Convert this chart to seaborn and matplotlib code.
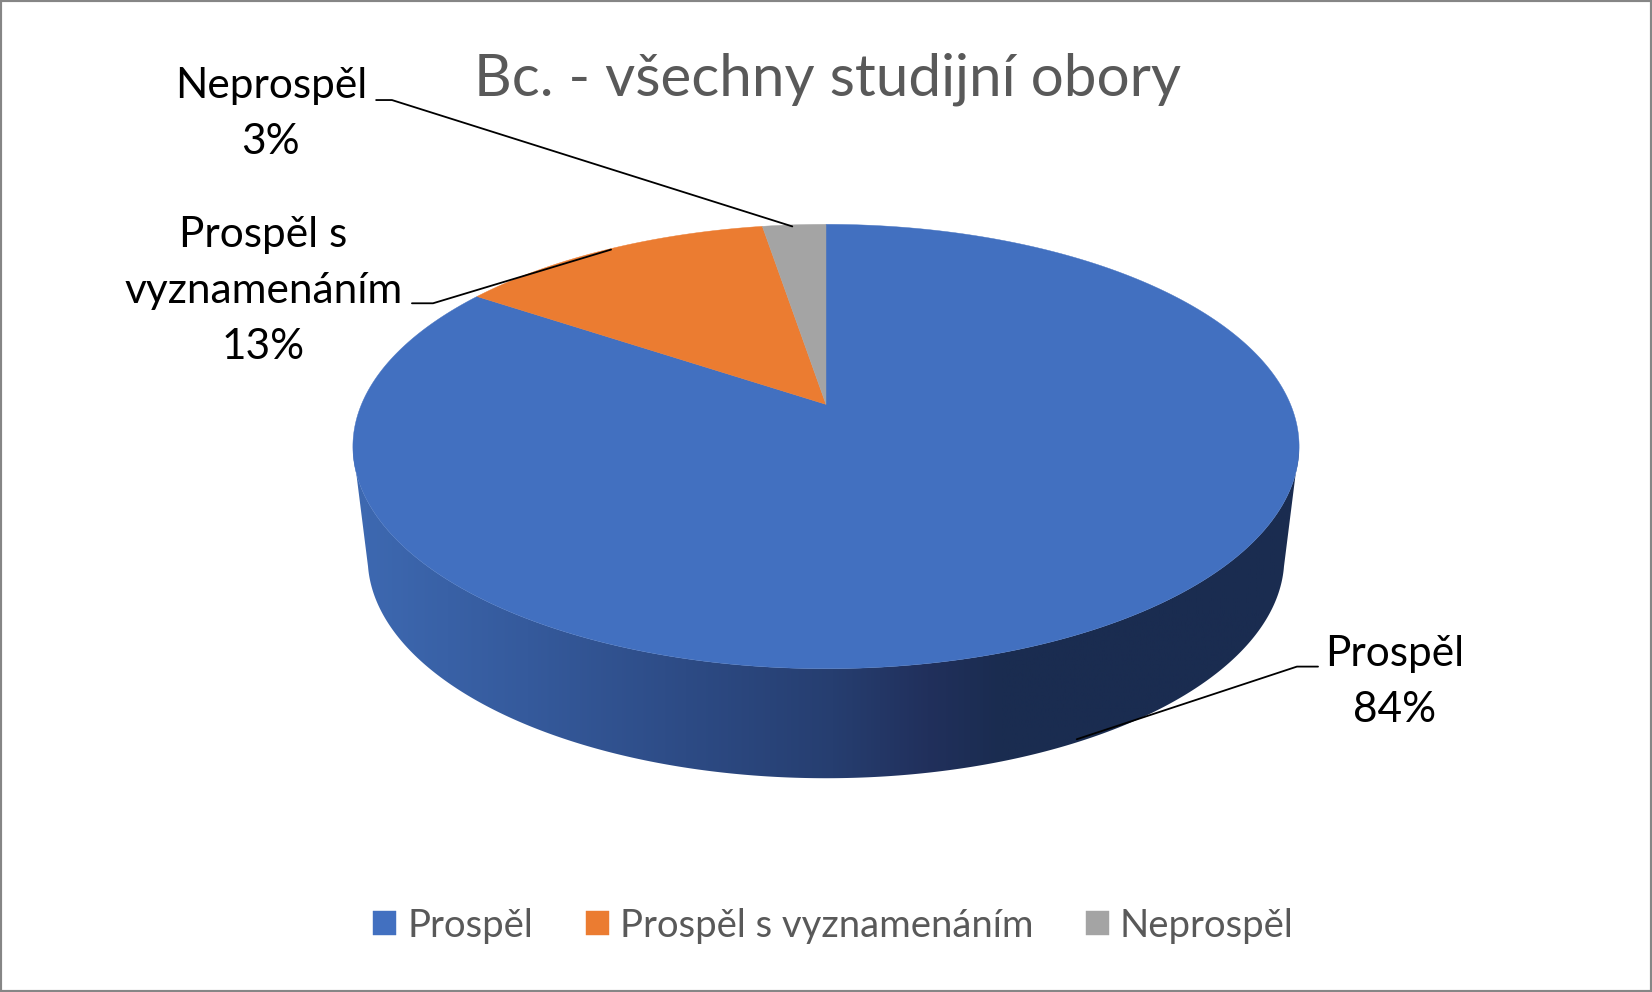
import numpy as np
import matplotlib
matplotlib.use("Agg")
import matplotlib.pyplot as plt
import seaborn as sns
from matplotlib.patches import Polygon

categories = ["Prospěl", "Prospěl s vyznamenáním", "Neprospěl"]
values = [84.4, 13.0, 2.6]
colors = ["#4270C0", "#EB7C31", "#A4A4A4"]
label_texts = ["Prospěl", "Prospěl s\nvyznamenáním", "Neprospěl"]
title = "Bc. - všechny studijní obory"
wall_colors = ["#3d68b0", "#355a9c", "#2d4b85", "#263e70", "#21305c", "#1a2c50", "#1a2c50"]
wall_stops = [349, 500, 650, 790, 880, 950, 1232]

sns.set_theme(style="white")
plt.rcParams["font.family"] = ["Lato", "DejaVu Sans"]

fig, ax = plt.subplots(figsize=(16.52, 9.92), dpi=100)
ax.set_position([0, 0, 1, 1])
ax.set_xticks([])
ax.set_yticks([])
for s in ax.spines.values():
    s.set_color("#868686")
    s.set_linewidth(3)

# perspective pie, angles run clockwise from 12 o'clock
cx, cy = 784, 384
a, b, k = 440.9, 203.4, 0.1896


def top_xy(theta):
    u, v = np.sin(theta), np.cos(theta)
    return cx + a * u / (1 + k * v), cy - b * v / (1 + k * v)


# side wall with the horizontal gradient
edge = np.arccos(-k)
t = np.linspace(edge, 2 * np.pi - edge, 300)
tx, ty = top_xy(t)
bt = np.linspace(np.pi - 0.038, 0.038, 300)
bx = 784 + 435 * np.cos(bt)
by = 530 + 209 * np.sin(bt)
wall = Polygon(np.column_stack([np.r_[tx, bx], np.r_[ty, by]]),
               closed=True, fc="none", ec="none", transform=ax.transData)
ax.add_patch(wall)
stops_x = np.linspace(335, 1232, 512)
grad = np.column_stack([
    np.interp(stops_x, wall_stops, [matplotlib.colors.to_rgb(c)[i] for c in wall_colors])
    for i in range(3)
])[None, :, :]
im = ax.imshow(grad, extent=(335, 1232, 745, 420), aspect="auto", zorder=1)
im.set_clip_path(wall)
ax.set_xlim(0, 1568)
ax.set_ylim(942, 0)

# top surface, slices start at 12 o'clock going clockwise
start = 0.0
total = sum(values)
for i in range(len(values)):
    sweep = values[i] / total * 2 * np.pi
    th = np.linspace(start, start + sweep, 400)
    x, y = top_xy(th)
    ax.fill(np.r_[cx, x], np.r_[cy, y], color=colors[i], lw=0.3, zorder=2, label=categories[i])
    start += sweep

# leader lines
leaders = [
    ([1251, 1231, 1022], [633, 633, 702]),
    ([391, 411, 580], [288, 288, 237]),
    ([357, 372, 752], [95, 95, 215]),
]
for lx, ly in leaders:
    ax.plot(lx, ly, color="black", lw=1.3, zorder=3)

label_pos = [(1324, 648), (250, 276), (257, 108)]
for i in range(3):
    ax.text(label_pos[i][0], label_pos[i][1], f"{label_texts[i]}\n{round(values[i])}%",
            ha="center", va="center", fontsize=30.5, color="black", linespacing=1.58, zorder=4)

ax.text(785, 75, title, ha="center", va="center", fontsize=42, color="#595959")

leg = ax.legend(loc="center", bbox_to_anchor=(791 / 1568, 1 - 879 / 942), ncol=3, frameon=False,
                fontsize=27.5, handlelength=0.61, handleheight=0.61, handletextpad=0.28,
                columnspacing=1.38, labelcolor="#595959")

fig.savefig("out.png", dpi=100)
